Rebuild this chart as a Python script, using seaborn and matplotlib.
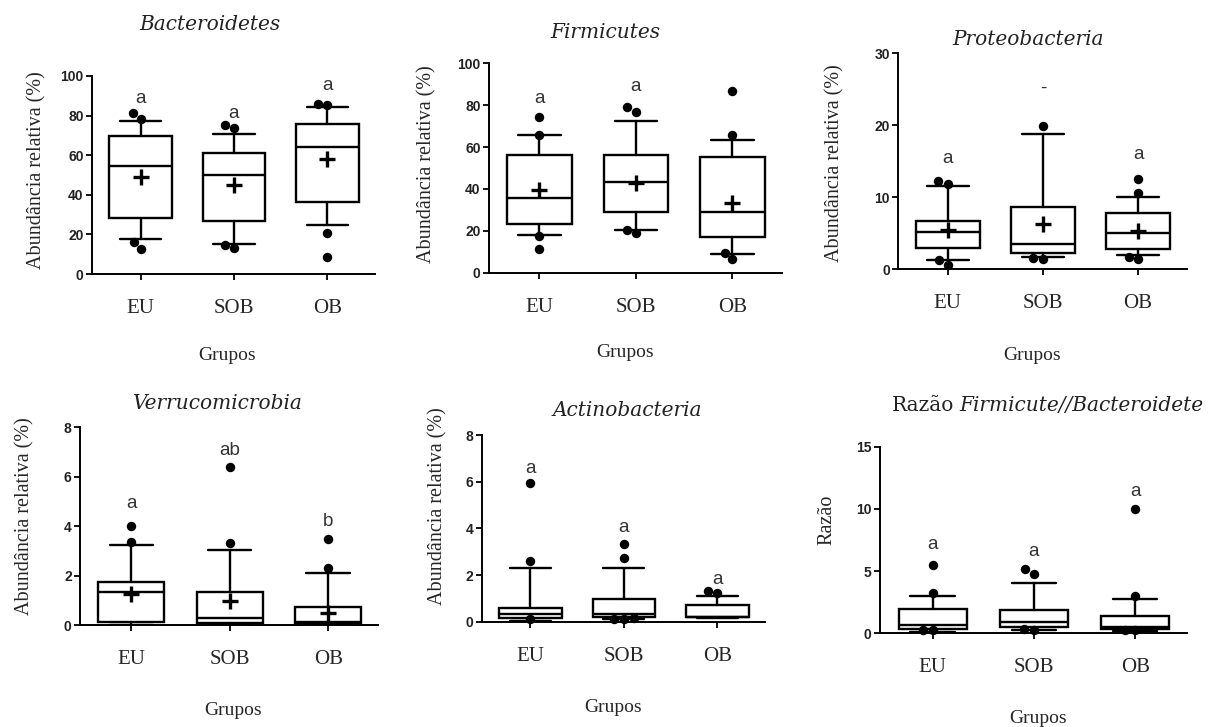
import numpy as np
import pandas as pd
import matplotlib
matplotlib.use("Agg")
import matplotlib.pyplot as plt
import seaborn as sns

groups = ["EU", "SOB", "OB"]

# ---- Bacteroidetes ----
bact_q1 = [28.1, 26.8, 36.2]
bact_med = [54.7, 50.0, 64.1]
bact_q3 = [69.9, 60.9, 75.6]
bact_lo = [17.5, 15.2, 24.6]
bact_hi = [77.4, 70.7, 84.5]
bact_mean = [49.2, 45.0, 57.9]
bact_out = [[81.1, 78.1, 16.2, 12.8], [75.3, 73.6, 14.6, 13.0], [85.4, 86.0, 20.9, 8.75]]
bact_letters = ["a", "a", "a"]
bact_letter_y = [88.7, 81.1, 95.0]

# ---- Firmicutes ----
firm_q1 = [23.2, 29.1, 16.9]
firm_med = [35.5, 43.5, 28.8]
firm_q3 = [56.0, 56.4, 55.4]
firm_lo = [17.8, 20.4, 8.9]
firm_hi = [65.8, 72.5, 63.4]
firm_mean = [39.5, 42.7, 33.1]
firm_out = [[74.2, 66.0, 17.4, 11.1], [79.3, 76.9, 20.4, 18.8], [86.9, 65.8, 9.2, 6.4]]
firm_letters = ["a", "a", ""]
firm_letter_y = [83.3, 89.0, 0.0]

# ---- Proteobacteria ----
prot_q1 = [2.9, 2.3, 2.78]
prot_med = [5.2, 3.5, 5.1]
prot_q3 = [6.76, 8.7, 7.87]
prot_lo = [1.3, 1.76, 2.0]
prot_hi = [11.6, 18.75, 10.1]
prot_mean = [5.46, 6.25, 5.37]
prot_out = [[12.3, 11.9, 1.3, 0.6], [19.9, 1.5, 1.45], [12.5, 10.6, 1.76, 1.4]]
prot_letters = ["a", "-", "a"]
prot_letter_y = [15.4, 25.1, 15.9]

# ---- Verrucomicrobia ----
verr_q1 = [0.135, 0.1, 0.07]
verr_med = [1.35, 0.27, 0.13]
verr_q3 = [1.75, 1.35, 0.72]
verr_lo = [0.0, 0.0, 0.0]
verr_hi = [3.24, 3.04, 2.12]
verr_mean = [1.25, 0.98, 0.5]
verr_out = [[4.0, 3.37], [6.38, 3.3], [3.48, 2.32]]
verr_letters = ["a", "ab", "b"]
verr_letter_y = [4.9, 7.05, 4.18]

# ---- Actinobacteria ----
acti_q1 = [0.14, 0.21, 0.19]
acti_med = [0.31, 0.31, 0.21]
acti_q3 = [0.6, 0.97, 0.71]
acti_lo = [0.02, 0.1, 0.15]
acti_hi = [2.29, 2.29, 1.1]
acti_out = [[5.93, 2.61, 0.1], [3.33, 2.71, 0.14, 0.13, 0.12], [1.24, 1.31]]
acti_letters = ["a", "a", "a"]
acti_letter_y = [6.57, 4.04, 1.81]

# ---- Razao Firmicute/Bacteroidete ----
razao_q1 = [0.32, 0.54, 0.32]
razao_med = [0.67, 0.88, 0.48]
razao_q3 = [1.93, 1.88, 1.42]
razao_lo = [0.12, 0.3, 0.15]
razao_hi = [3.03, 4.02, 2.79]
razao_out = [[5.49, 3.27, 0.3, 0.28], [5.14, 4.74, 0.32, 0.3], [9.97, 3.03, 0.3, 0.28]]
razao_letters = ["a", "a", "a"]
razao_letter_y = [7.1, 6.6, 11.4]

sns.set_theme(style="ticks")
plt.rcParams["font.family"] = ["Liberation Serif", "DejaVu Sans"]

fig = plt.figure(figsize=(12.26, 7.27), dpi=100)

LW = 1.7


def draw_panel(rect, title, ylabel, ymax, yticks, q1, med, q3, lo, hi, mean,
               outliers, letters, letter_y, title_xy, ylab_xy, xlab_xy):
    ax = fig.add_axes(rect)
    stats = []
    for i, g in enumerate(groups):
        d = dict(label=g, q1=q1[i], med=med[i], q3=q3[i],
                 whislo=lo[i], whishi=hi[i], fliers=[])
        if mean is not None:
            d["mean"] = mean[i]
        stats.append(d)
    ax.set_ylim(0, ymax)
    ax.set_xlim(-0.52, 2.51)
    ax.bxp(stats, positions=[0, 1, 2], widths=0.67, capwidths=0.44,
           showmeans=mean is not None, showfliers=False, patch_artist=True,
           manage_ticks=False,
           boxprops=dict(facecolor="white", edgecolor="black", linewidth=LW),
           medianprops=dict(color="black", linewidth=LW),
           whiskerprops=dict(color="black", linewidth=LW),
           capprops=dict(color="black", linewidth=LW),
           meanprops=dict(marker="+", markersize=12, markeredgewidth=2.4,
                          markeredgecolor="black"))
    df = pd.DataFrame({
        "group": [g for g, vals in zip(groups, outliers) for _ in vals],
        "value": [v for vals in outliers for v in vals],
    })
    sns.swarmplot(data=df, x="group", y="value", order=groups, color="black",
                  size=6.8, ax=ax, zorder=5, clip_on=False)
    ax.set_ylim(0, ymax)
    ax.set_xlim(-0.52, 2.51)
    for i, (lt, ly) in enumerate(zip(letters, letter_y)):
        if lt:
            ax.text(i, ly, lt, ha="center", va="center", fontsize=13.5,
                    family="Liberation Sans", color="#333333", zorder=6)

    sns.despine(ax=ax)
    for s in ("left", "bottom"):
        ax.spines[s].set_linewidth(1.4)
        ax.spines[s].set_color("black")

    ax.set_yticks(yticks)
    ax.set_yticklabels([str(t) for t in yticks], family="Liberation Sans",
                       fontweight="bold", fontsize=10, color="#222222")
    ax.set_xticks([0, 1, 2])
    ax.set_xticklabels(groups, family="Liberation Serif", fontsize=15)
    ax.tick_params(axis="y", length=4, width=1.3, pad=2, color="black")
    ax.tick_params(axis="x", length=4, width=1.3, pad=14, color="black")

    ax.set_xlabel("Grupos", fontsize=14, family="Liberation Serif", va="center")
    ax.xaxis.set_label_coords(*xlab_xy)
    ax.set_ylabel(ylabel, fontsize=14.5, family="Liberation Serif", va="center")
    ax.yaxis.set_label_coords(*ylab_xy)

    if title is not None:
        ax.text(title_xy[0], title_xy[1], title, transform=ax.transAxes,
                ha="center", va="center", fontsize=14.5, family="DejaVu Serif",
                style="italic", color="#222222")
    return ax


ylab = "Abundância relativa (%)"

draw_panel([0.0750, 0.6231, 0.2309, 0.2724], "Bacteroidetes", ylab, 100,
           [0, 20, 40, 60, 80, 100], bact_q1, bact_med, bact_q3, bact_lo,
           bact_hi, bact_mean, bact_out, bact_letters, bact_letter_y,
           (0.417, 1.258), (-0.194, 0.525), (0.477, -0.409))

draw_panel([0.3989, 0.6249, 0.2387, 0.2880], "Firmicutes", ylab, 100,
           [0, 20, 40, 60, 80, 100], firm_q1, firm_med, firm_q3, firm_lo,
           firm_hi, firm_mean, firm_out, firm_letters, firm_letter_y,
           (0.396, 1.149), (-0.212, 0.52), (0.465, -0.379))

draw_panel([0.7327, 0.6296, 0.2352, 0.2971], "Proteobacteria", ylab, 30,
           [0, 10, 20, 30], prot_q1, prot_med, prot_q3, prot_lo,
           prot_hi, prot_mean, prot_out, prot_letters, prot_letter_y,
           (0.45, 1.062), (-0.22, 0.49), (0.464, -0.397))

draw_panel([0.0653, 0.1403, 0.2433, 0.2719], "Verrucomicrobia", ylab, 8,
           [0, 2, 4, 6, 8], verr_q1, verr_med, verr_q3, verr_lo,
           verr_hi, verr_mean, verr_out, verr_letters, verr_letter_y,
           (0.463, 1.123), (-0.185, 0.55), (0.513, -0.43))

draw_panel([0.3929, 0.1448, 0.2311, 0.2568], "Actinobacteria", ylab, 8,
           [0, 2, 4, 6, 8], acti_q1, acti_med, acti_q3, acti_lo,
           acti_hi, None, acti_out, acti_letters, acti_letter_y,
           (0.513, 1.134), (-0.154, 0.62), (0.463, -0.457))

ax6 = draw_panel([0.7178, 0.1289, 0.2502, 0.2567], None, "Razão", 15,
                 [0, 5, 10, 15], razao_q1, razao_med, razao_q3, razao_lo,
                 razao_hi, None, razao_out, razao_letters, razao_letter_y,
                 None, (-0.173, 0.61), (0.515, -0.454))
t1 = ax6.text(0.038, 1.223, "Razão", transform=ax6.transAxes, ha="left",
              va="center", fontsize=14.5, family="DejaVu Serif", color="#222222")
ax6.annotate("Firmicute//Bacteroidete", xy=(1, 0.5), xycoords=t1,
             xytext=(4, 0), textcoords="offset points", ha="left", va="center",
             fontsize=14.5, family="DejaVu Serif", style="italic", color="#222222")

fig.savefig("out.png", dpi=100, facecolor="white")
